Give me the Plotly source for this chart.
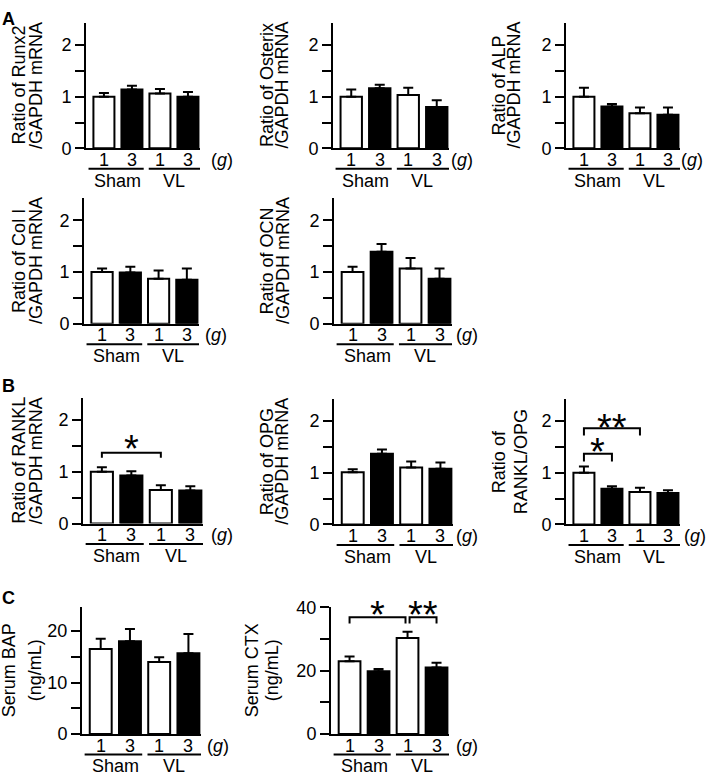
import plotly.graph_objects as go

W, H = 709, 782
FONT = "Liberation Sans, Arial, sans-serif"

# ---------------- data ----------------
dose_labels = ["1", "3", "1", "3"]
group_names = ["Sham", "VL"]
bar_colors = ["white", "black", "white", "black"]

runx2 = [1.00, 1.14, 1.06, 1.00]
runx2_err = [0.07, 0.07, 0.09, 0.09]
osterix = [1.00, 1.16, 1.03, 0.80]
osterix_err = [0.14, 0.07, 0.14, 0.13]
alp = [1.00, 0.81, 0.68, 0.65]
alp_err = [0.17, 0.05, 0.11, 0.14]
col1 = [1.00, 0.99, 0.87, 0.85]
col1_err = [0.07, 0.11, 0.16, 0.22]
ocn = [1.00, 1.39, 1.07, 0.87]
ocn_err = [0.10, 0.15, 0.20, 0.20]
rankl = [1.00, 0.93, 0.65, 0.64]
rankl_err = [0.09, 0.08, 0.09, 0.08]
opg = [1.01, 1.37, 1.10, 1.08]
opg_err = [0.06, 0.08, 0.12, 0.12]
rankl_opg = [1.00, 0.69, 0.63, 0.61]
rankl_opg_err = [0.12, 0.05, 0.08, 0.05]
bap = [16.5, 18.0, 14.0, 15.7]
bap_err = [2.0, 2.4, 0.9, 3.7]
ctx = [23.0, 19.8, 30.3, 21.0]
ctx_err = [1.5, 0.7, 2.0, 1.5]

ratio_ticks = [0, 0.5, 1, 1.5, 2]
ratio_ticktext = ["0", "", "1", "", "2"]
bap_ticks = [0, 5, 10, 15, 20]
bap_ticktext = ["0", "", "10", "", "20"]
ctx_ticks = [0, 10, 20, 30, 40]
ctx_ticktext = ["0", "", "20", "", "40"]

# ---------------- layout of panels (pixels) ----------------
panels = [
    dict(v=runx2, e=runx2_err, lab=("Ratio of Runx2", "/GAPDH mRNA"), x0=86, x1=200, yb=142, yt=13, ymax=2.43,
         tv=ratio_ticks, tt=ratio_ticktext, lx=(19, 35.5), gx=222),
    dict(v=osterix, e=osterix_err, lab=("Ratio of Osterix", "/GAPDH mRNA"), x0=333, x1=449, yb=142, yt=13, ymax=2.43,
         tv=ratio_ticks, tt=ratio_ticktext, lx=(266.5, 282), gx=462),
    dict(v=alp, e=alp_err, lab=("Ratio of ALP", "/GAPDH mRNA"), x0=566, x1=680, yb=142, yt=13, ymax=2.43,
         tv=ratio_ticks, tt=ratio_ticktext, lx=(499, 514), gx=692),
    dict(v=col1, e=col1_err, lab=("Ratio of Col I", "/GAPDH mRNA"), x0=84, x1=199, yb=322, yt=193, ymax=2.43,
         tv=ratio_ticks, tt=ratio_ticktext, lx=(19, 36), gx=216),
    dict(v=ocn, e=ocn_err, lab=("Ratio of OCN", "/GAPDH mRNA"), x0=334, x1=452, yb=322, yt=193, ymax=2.43,
         tv=ratio_ticks, tt=ratio_ticktext, lx=(266.5, 283), gx=467),
    dict(v=rankl, e=rankl_err, lab=("Ratio of RANKL", "/GAPDH mRNA"), x0=83, x1=203, yb=527, yt=398, ymax=2.43,
         tv=ratio_ticks, tt=ratio_ticktext, lx=(19, 35.5), gx=222),
    dict(v=opg, e=opg_err, lab=("Ratio of OPG", "/GAPDH mRNA"), x0=334, x1=453, yb=528, yt=399, ymax=2.43,
         tv=ratio_ticks, tt=ratio_ticktext, lx=(266.5, 282), gx=467),
    dict(v=rankl_opg, e=rankl_opg_err, lab=("Ratio of", "RANKL/OPG"), x0=566, x1=680, yb=528, yt=399, ymax=2.43,
         tv=ratio_ticks, tt=ratio_ticktext, lx=(498.5, 520.5), gx=695),
    dict(v=bap, e=bap_err, lab=("Serum BAP", "(ng/mL)"), x0=82, x1=201, yb=743, yt=613, ymax=24.6,
         tv=bap_ticks, tt=bap_ticktext, lx=(8.5, 34.5), gx=218),
    dict(v=ctx, e=ctx_err, lab=("Serum CTX", "(ng/mL)"), x0=331, x1=449, yb=743, yt=613, ymax=40,
         tv=ctx_ticks, tt=ctx_ticktext, lx=(251.5, 271.5), gx=467),
]

# significance brackets: (panel index, x_from, x_to, bar level, leg level, text, text level)
brackets = [
    (5, 0, 2, 1.37, 1.27, "*", 1.60),
    (7, 0, 1, 1.37, 1.22, "*", 1.56),
    (7, 0, 2, 1.86, 1.72, "**", 2.03),
    (9, 0, 1.93, 36.9, 34.9, "*", 40.3),
    (9, 2.07, 3, 36.9, 34.9, "**", 40.3),
]

panel_letters = [("A", 8, 9), ("B", 8, 386), ("C", 8, 603)]


def X(px):
    return px / W


def Y(py):
    return 1 - py / H


fig = go.Figure()
shapes = []
annotations = []
xr = [-0.64, 3.43]

for i, p in enumerate(panels, start=1):
    xa = "x" if i == 1 else f"x{i}"
    ya = "y" if i == 1 else f"y{i}"
    fig.add_trace(go.Bar(
        x=list(range(len(p["v"]))), y=p["v"], width=0.75,
        marker=dict(color=bar_colors, line=dict(color="black", width=2)),
        error_y=dict(type="data", array=p["e"], arrayminus=[0] * len(p["e"]), symmetric=False,
                     color="black", thickness=2, width=5),
        xaxis=xa, yaxis=ya, showlegend=False, hoverinfo="skip",
    ))
    fig.layout[f"xaxis{'' if i == 1 else i}"] = dict(
        domain=[X(p["x0"]), X(p["x1"])], range=xr, anchor=ya,
        showline=True, linecolor="black", linewidth=2, showticklabels=False,
        ticks="", showgrid=False, zeroline=False, fixedrange=True,
    )
    fig.layout[f"yaxis{'' if i == 1 else i}"] = dict(
        domain=[Y(p["yb"]), Y(p["yt"])], range=[0, p["ymax"]], anchor=xa,
        showline=True, linecolor="black", linewidth=2, ticks="outside", ticklen=9, tickwidth=2,
        tickcolor="black", tickvals=p["tv"], ticktext=p["tt"], showgrid=False, zeroline=False,
        tickfont=dict(family=FONT, size=18, color="black"), fixedrange=True,
    )
    # dose labels
    for j, d in enumerate(dose_labels):
        annotations.append(dict(x=j, xref=xa, y=Y(p["yb"] + 12), yref="paper", text=d,
                                showarrow=False, xanchor="center", yanchor="middle",
                                font=dict(family=FONT, size=18, color="black")))
    # group underline + names
    for g, (a, b) in enumerate([(-0.55, 1.42), (1.6, 3.43)]):
        shapes.append(dict(type="line", xref=xa, yref="paper", x0=a, x1=b,
                           y0=Y(p["yb"] + 21), y1=Y(p["yb"] + 21),
                           line=dict(color="black", width=2)))
        annotations.append(dict(x=0.5 + 2 * g, xref=xa, y=Y(p["yb"] + 33), yref="paper",
                                text=group_names[g], showarrow=False, xanchor="center", yanchor="middle",
                                font=dict(family=FONT, size=18, color="black")))
    annotations.append(dict(x=X(p["gx"]), xref="paper", y=Y(p["yb"] + 12), yref="paper",
                            text="(<i>g</i>)", showarrow=False, xanchor="center", yanchor="middle",
                            font=dict(family=FONT, size=18, color="black")))
    # y labels
    for k, t in enumerate(p["lab"]):
        annotations.append(dict(x=X(p["lx"][k]), xref="paper", y=Y((p["yb"] + p["yt"]) / 2), yref="paper",
                                text=t, textangle=-90, showarrow=False, xanchor="center", yanchor="middle",
                                font=dict(family=FONT, size=18, color="black")))

for (pi, a, b, lvl, leg, txt, ty) in brackets:
    i = pi + 1
    xa = "x" if i == 1 else f"x{i}"
    ya = "y" if i == 1 else f"y{i}"
    ymax = panels[pi]["ymax"]
    shapes.append(dict(type="path", xref=xa, yref=ya,
                       path=f"M {a},{leg} L {a},{lvl} L {b},{lvl} L {b},{leg}",
                       line=dict(color="black", width=2)))
    annotations.append(dict(x=(a + b) / 2, xref=xa, y=ty / ymax, yref=f"{ya} domain", text=txt,
                            showarrow=False, xanchor="center", yanchor="middle", yshift=-8.5,
                            font=dict(family=FONT, size=38, color="black")))

for (t, px, py) in panel_letters:
    annotations.append(dict(x=X(px), xref="paper", y=Y(py), yref="paper", text=f"<b>{t}</b>",
                            showarrow=False, xanchor="center", yanchor="middle",
                            font=dict(family=FONT, size=18, color="black")))

fig.update_layout(
    width=W, height=H, margin=dict(l=0, r=0, t=0, b=0), autosize=False,
    plot_bgcolor="white", paper_bgcolor="white", showlegend=False,
    shapes=shapes, annotations=annotations, hovermode=False,
    font=dict(family=FONT, size=18, color="black"),
)

fig.write_html(
    "out.html",
    config=dict(displayModeBar=False, staticPlot=True),
    post_script=(
        "var gd=document.getElementById('{plot_id}');"
        "gd.style.position='fixed';gd.style.top='0px';gd.style.left='0px';"
        "document.body.style.margin='0px';document.body.style.padding='0px';"
        "document.body.style.fontSize='0px';document.body.style.lineHeight='0';"
        "document.body.style.overflow='hidden';document.documentElement.style.overflow='hidden';"
    ),
)
